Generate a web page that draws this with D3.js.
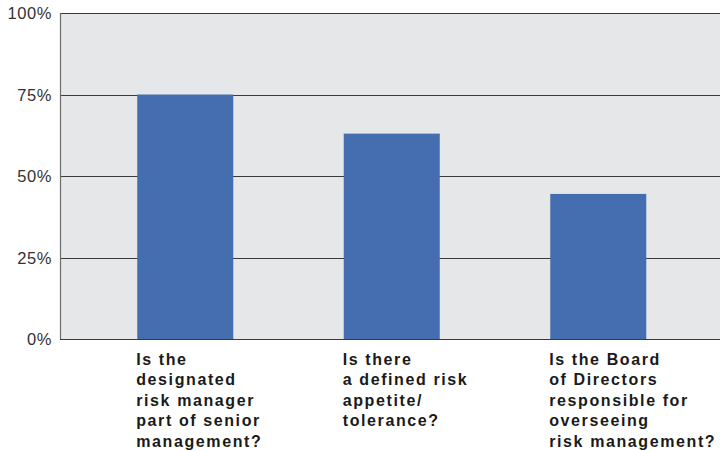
<!DOCTYPE html>
<html lang="en">
<head>
<meta charset="UTF-8">
<title>Risk management survey</title>
<script src="https://d3js.org/d3.v7.min.js"></script>
<style>
  body { margin: 0; background: #fff; }
</style>
</head>
<body>
<div id="chart"></div>

<script>
// Data
const questions = [
  ["Is the", "designated", "risk manager", "part of senior", "management?"],
  ["Is there", "a defined risk", "appetite/", "tolerance?"],
  ["Is the Board", "of Directors", "responsible for", "overseeing", "risk management?"]
];
const shares = [75, 63, 44.5];
const yTicks = [0, 25, 50, 75, 100];

const width = 720, height = 450;
const plot = { left: 60, right: 720, top: 13, bottom: 339 };

const svg = d3.select("#chart").append("svg")
  .attr("width", width)
  .attr("height", height);

const x = d3.scaleBand()
  .domain(d3.range(shares.length))
  .range([82, 701.5])
  .paddingInner(0.535)
  .paddingOuter(0.2675);

const y = d3.scaleLinear()
  .domain([0, 100])
  .range([plot.bottom, plot.top]);

// Plot background
svg.append("rect")
  .attr("x", plot.left)
  .attr("y", plot.top)
  .attr("width", plot.right - plot.left)
  .attr("height", plot.bottom - plot.top)
  .attr("fill", "#e6e7e8");

// Grid lines
svg.append("g")
  .selectAll("line")
  .data(yTicks)
  .join("line")
  .attr("x1", plot.left)
  .attr("x2", plot.right)
  .attr("y1", d => Math.round(y(d)) + 0.5)
  .attr("y2", d => Math.round(y(d)) + 0.5)
  .attr("stroke", "#3a3a3a")
  .attr("stroke-width", 1.2);

// Bars
svg.append("g")
  .selectAll("rect")
  .data(shares)
  .join("rect")
  .attr("x", (d, i) => x(i))
  .attr("y", d => y(d))
  .attr("width", x.bandwidth())
  .attr("height", d => y(0) - y(d))
  .attr("fill", "#446eaf");

// Left axis line
svg.append("line")
  .attr("x1", plot.left + 0.5)
  .attr("x2", plot.left + 0.5)
  .attr("y1", plot.top)
  .attr("y2", plot.bottom)
  .attr("stroke", "#6d6d6d")
  .attr("stroke-width", 1.2);

// Y tick labels
svg.append("g")
  .selectAll("text")
  .data(yTicks)
  .join("text")
  .attr("x", 52)
  .attr("y", d => y(d) + 6)
  .attr("text-anchor", "end")
  .attr("font-family", "Liberation Sans, Arial, sans-serif")
  .attr("font-size", 16.5)
  .attr("letter-spacing", 0.6)
  .attr("fill", "#333")
  .text(d => d + "%");

// Category labels
const labels = svg.append("g")
  .selectAll("text")
  .data(questions)
  .join("text")
  .attr("x", (d, i) => x(i) - 1)
  .attr("y", 365)
  .attr("font-family", "Liberation Sans, Arial, sans-serif")
  .attr("font-weight", "bold")
  .attr("font-size", 16)
  .attr("letter-spacing", 1.6)
  .attr("fill", "#1a1a1a");

labels.selectAll("tspan")
  .data(d => d)
  .join("tspan")
  .attr("x", function() { return d3.select(this.parentNode).attr("x"); })
  .attr("dy", (d, i) => i === 0 ? 0 : 20.4)
  .text(d => d);
</script>
</body>
</html>
